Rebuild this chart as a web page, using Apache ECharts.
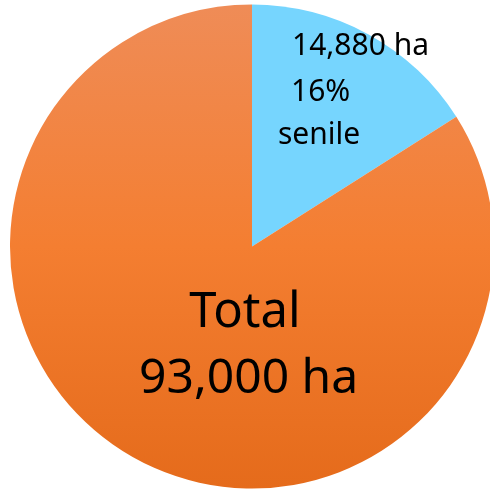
<!DOCTYPE html>
<html>
<head>
<meta charset="utf-8">
<script src="https://cdn.jsdelivr.net/npm/echarts@6/dist/echarts.min.js"></script>
<style>html,body{margin:0;padding:0;background:#fff}#c{width:490px;height:489px}</style>
</head>
<body>
<div id="c"></div>
<script>
const categories = ['senile', 'other'];
const values = [14880, 78120];
const totalHa = 93000;
const senilePct = 16;

const fmt = n => n.toLocaleString('en-US');
const FONT = '"Noto Sans", "Open Sans", sans-serif';

const chart = echarts.init(document.getElementById('c'));
chart.setOption({
  animation: false,
  series: [{
    type: 'pie',
    z: 1,
    center: [252, 246.5],
    radius: [0, 242],
    startAngle: 90,
    clockwise: true,
    label: { show: false },
    labelLine: { show: false },
    emphasis: { disabled: true },
    itemStyle: { borderWidth: 0 },
    data: [
      { name: categories[0], value: values[0], itemStyle: { color: '#76D5FE' } },
      { name: categories[1], value: values[1], itemStyle: { color: new echarts.graphic.LinearGradient(0, 0, 0, 1, [
        { offset: 0, color: '#EF8C57' },
        { offset: 0.5, color: '#F47E31' },
        { offset: 1, color: '#E56B1B' }
      ]) } }
    ]
  }],
  graphic: {
    elements: [
      { type: 'text', z: 100, zlevel: 1, left: 292, top: 31, style: { text: fmt(values[0]) + ' ha', font: '30px ' + FONT, fill: '#000' } },
      { type: 'text', z: 100, zlevel: 1, left: 291, top: 77, style: { text: senilePct + '%', font: '30px ' + FONT, fill: '#000' } },
      { type: 'text', z: 100, zlevel: 1, left: 278, top: 120, style: { text: categories[0], font: '30px ' + FONT, fill: '#000' } },
      { type: 'text', z: 100, zlevel: 1, left: 'center', top: 289, style: { text: 'Total', font: '49px ' + FONT, fill: '#000' } },
      { type: 'text', z: 100, zlevel: 1, left: 139, top: 355, style: { text: fmt(totalHa) + ' ha', font: '48px ' + FONT, fill: '#000' } }
    ]
  }
});
</script>
</body>
</html>
